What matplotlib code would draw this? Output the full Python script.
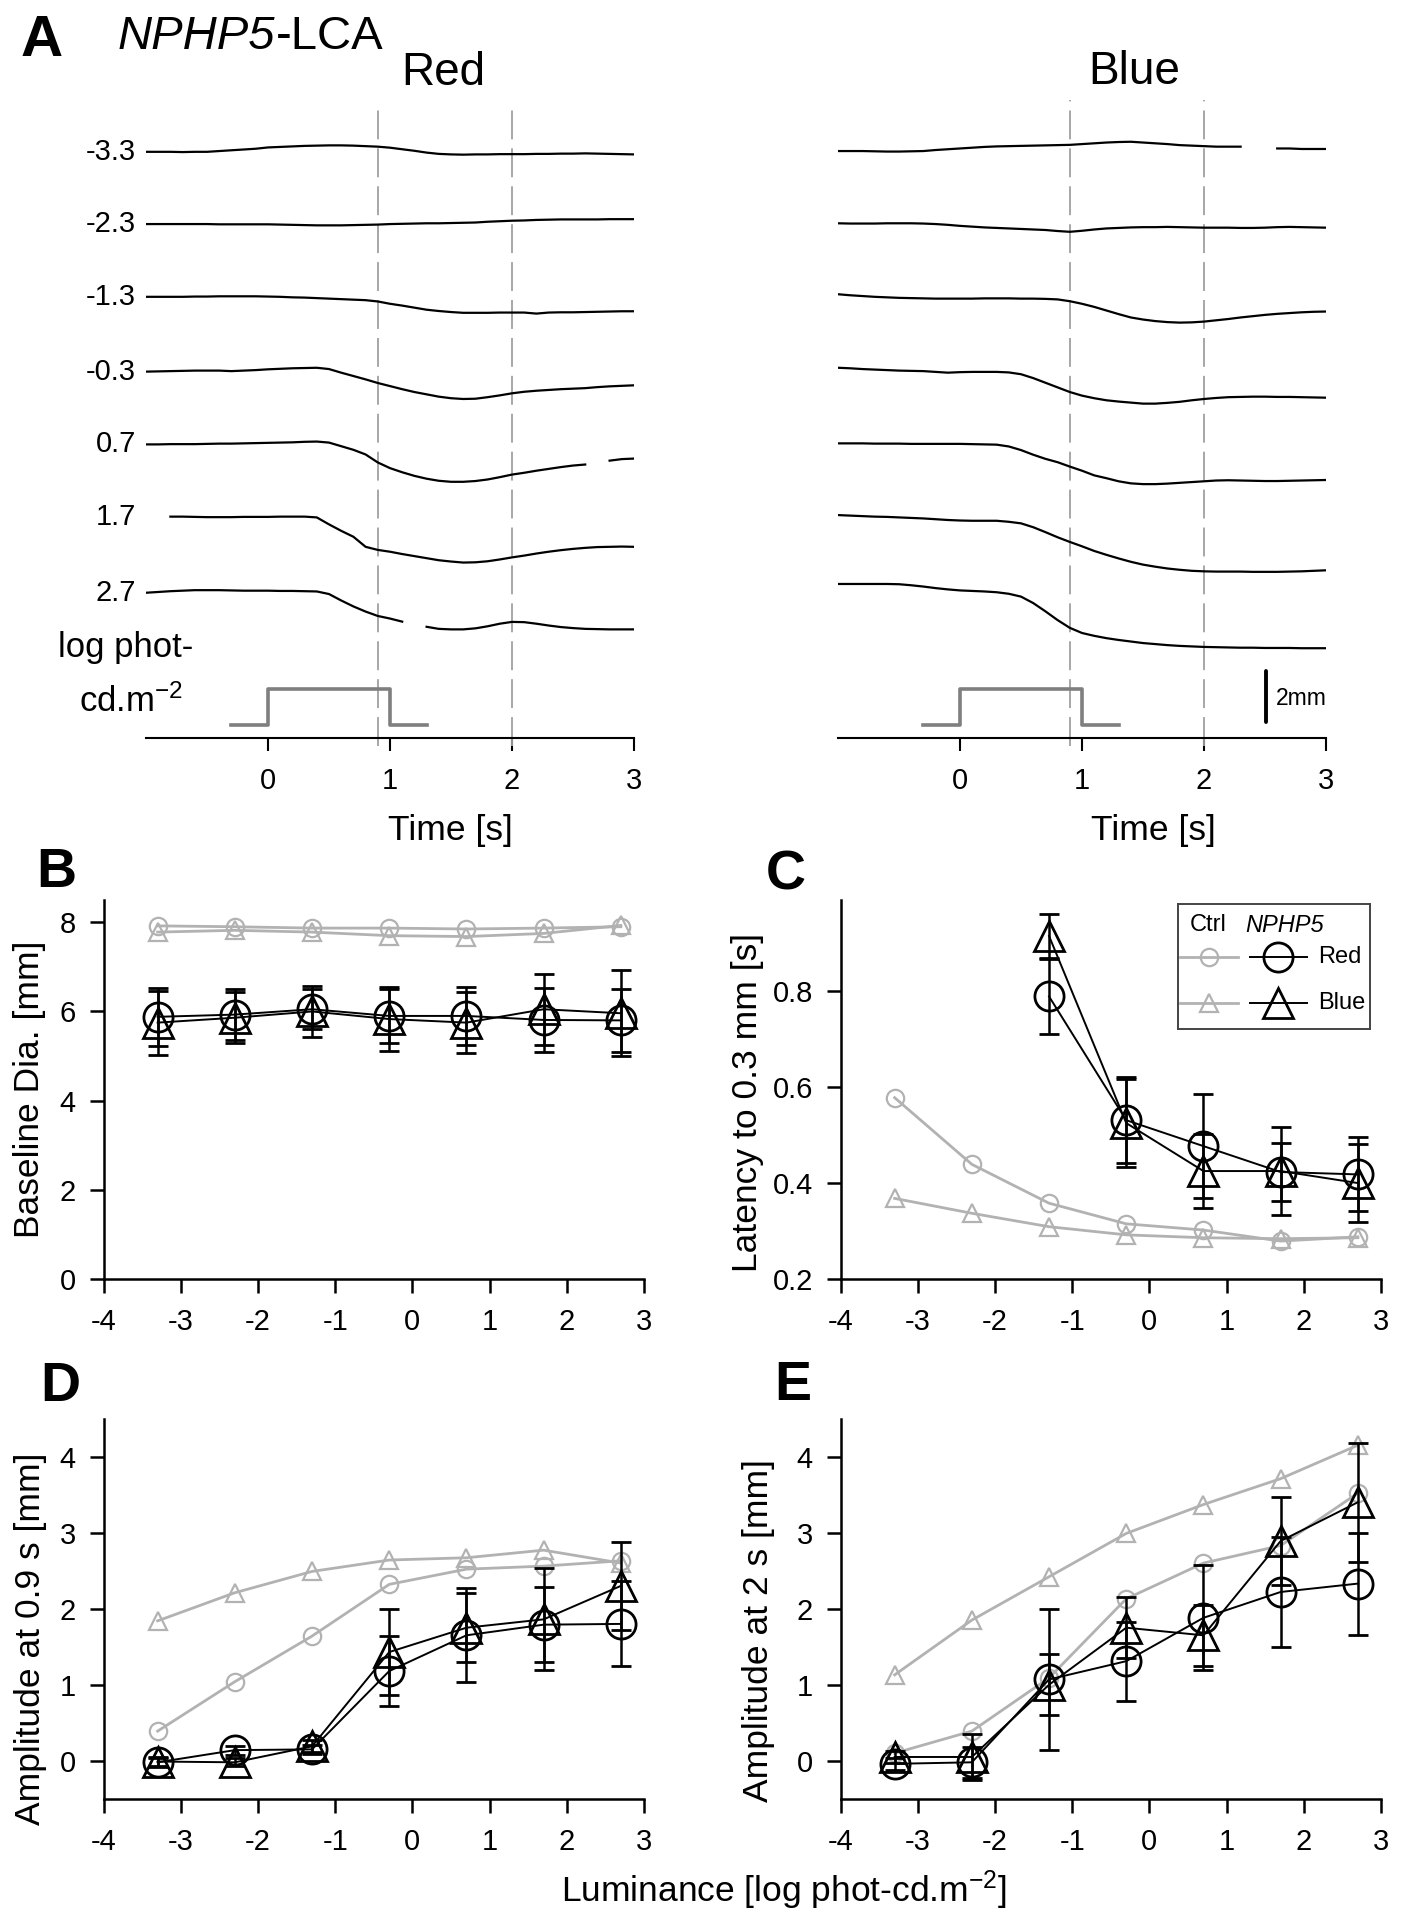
import matplotlib
matplotlib.use('Agg')
import matplotlib.pyplot as plt
import numpy as np

W, H = 1401, 1920
plt.rcParams['font.family'] = ['Liberation Sans', 'DejaVu Sans']
plt.rcParams['mathtext.fontset'] = 'custom'
plt.rcParams['mathtext.rm'] = 'Liberation Sans'
plt.rcParams['mathtext.it'] = 'Liberation Sans:italic'
plt.rcParams['axes.unicode_minus'] = False

# ---------------- panel A: pupil traces (mm change vs time) ----------------
TIME = [-1.0, -0.9, -0.8, -0.7, -0.6, -0.5, -0.4, -0.3, -0.2, -0.1,
        0.0, 0.1, 0.2, 0.3, 0.4, 0.5, 0.6, 0.7, 0.8, 0.9,
        1.0, 1.1, 1.2, 1.3, 1.4, 1.5, 1.6, 1.7, 1.8, 1.9,
        2.0, 2.1, 2.2, 2.3, 2.4, 2.5, 2.6, 2.7, 2.8, 2.9, 3.0]
nan = np.nan
LEVELS = ['-3.3', '-2.3', '-1.3', '-0.3', '0.7', '1.7', '2.7']

RED_M33 = [0, 0, 0, -0.01, 0, 0, 0.03, 0.06, 0.09, 0.12,
           0.17, 0.19, 0.21, 0.23, 0.24, 0.25, 0.25, 0.24, 0.22, 0.20,
           0.16, 0.10, 0.04, -0.03, -0.08, -0.10, -0.11, -0.10, -0.10, -0.09,
           -0.09, -0.09, -0.08, -0.08, -0.07, -0.07, -0.06, -0.07, -0.08, -0.09, -0.10]
RED_M23 = [0, 0, 0, 0, 0, 0, -0.01, -0.01, -0.01, -0.01,
           -0.01, -0.02, -0.03, -0.04, -0.05, -0.05, -0.05, -0.04, -0.03, -0.02,
           0.0, 0.01, 0.02, 0.03, 0.03, 0.04, 0.05, 0.06, 0.09, 0.11,
           0.13, 0.14, 0.16, 0.17, 0.18, 0.18, 0.18, 0.18, 0.19, 0.19, 0.19]
RED_M13 = [0, 0, 0, 0, 0.01, 0.01, 0.02, 0.02, 0.02, 0.02,
           0.01, 0.0, -0.02, -0.03, -0.05, -0.07, -0.09, -0.11, -0.13, -0.18,
           -0.27, -0.34, -0.42, -0.50, -0.55, -0.59, -0.62, -0.62, -0.62, -0.61,
           -0.61, -0.61, -0.65, -0.61, -0.60, -0.60, -0.59, -0.58, -0.57, -0.56, -0.56]
RED_M03 = [0, 0.01, 0.02, 0.03, 0.04, 0.04, 0.04, 0.02, 0.04, 0.06,
           0.09, 0.11, 0.13, 0.14, 0.15, 0.10, -0.04, -0.17, -0.30, -0.44,
           -0.56, -0.68, -0.79, -0.88, -0.97, -1.03, -1.06, -1.05, -0.99, -0.92,
           -0.84, -0.78, -0.74, -0.71, -0.68, -0.66, -0.64, -0.60, -0.57, -0.55, -0.53]
RED_P07 = [0, 0, 0.01, 0.01, 0.01, 0.02, 0.03, 0.03, 0.04, 0.05,
           0.06, 0.07, 0.08, 0.10, 0.11, 0.07, -0.07, -0.21, -0.39, -0.70,
           -0.92, -1.08, -1.22, -1.33, -1.41, -1.45, -1.45, -1.42, -1.36, -1.27,
           -1.17, -1.10, -1.02, -0.95, -0.88, -0.82, -0.78, nan, -0.63, -0.57, -0.55]
RED_P17 = [nan, nan, 0, 0, -0.01, -0.02, -0.02, -0.02, -0.01, -0.01,
           -0.01, 0, 0, 0, -0.03, -0.30, -0.55, -0.78, -1.17, -1.29,
           -1.36, -1.45, -1.53, -1.61, -1.69, -1.74, -1.78, -1.77, -1.73, -1.66,
           -1.58, -1.51, -1.43, -1.36, -1.30, -1.25, -1.21, -1.18, -1.17, -1.16, -1.17]
RED_P27 = [0, 0.03, 0.06, 0.08, 0.10, 0.10, 0.10, 0.09, 0.08, 0.08,
           0.08, 0.07, 0.07, 0.06, 0.05, -0.05, -0.30, -0.53, -0.73, -0.90,
           -1.00, -1.12, nan, -1.32, -1.40, -1.42, -1.42, -1.38, -1.30, -1.20,
           -1.13, -1.14, -1.20, -1.27, -1.33, -1.37, -1.40, -1.41, -1.42, -1.42, -1.42]

BLUE_M33 = [0, 0, 0, -0.01, -0.02, -0.02, -0.01, 0.0, 0.04, 0.07,
            0.10, 0.13, 0.16, 0.18, 0.19, 0.20, 0.21, 0.22, 0.23, 0.24,
            0.27, 0.30, 0.33, 0.35, 0.36, 0.33, 0.30, 0.27, 0.23, 0.21,
            0.19, 0.17, 0.17, 0.17, nan, nan, 0.10, 0.10, 0.08, 0.08, 0.08]
BLUE_M23 = [0, -0.01, -0.01, -0.01, 0, 0, 0, -0.01, -0.03, -0.06,
            -0.10, -0.13, -0.16, -0.18, -0.20, -0.22, -0.24, -0.26, -0.30, -0.33,
            -0.29, -0.24, -0.20, -0.18, -0.16, -0.15, -0.15, -0.14, -0.15, -0.16,
            -0.17, -0.17, -0.17, -0.18, -0.18, -0.17, -0.15, -0.14, -0.15, -0.16, -0.17]
BLUE_M13 = [0, -0.04, -0.07, -0.10, -0.12, -0.14, -0.15, -0.16, -0.17, -0.17,
            -0.17, -0.17, -0.16, -0.16, -0.16, -0.17, -0.17, -0.18, -0.20, -0.27,
            -0.37, -0.49, -0.63, -0.77, -0.90, -0.98, -1.04, -1.08, -1.10, -1.09,
            -1.06, -1.01, -0.96, -0.90, -0.85, -0.80, -0.76, -0.73, -0.70, -0.68, -0.67]
BLUE_M03 = [0, -0.02, -0.05, -0.07, -0.09, -0.11, -0.12, -0.13, -0.16, -0.19,
            -0.17, -0.16, -0.16, -0.16, -0.18, -0.25, -0.40, -0.58, -0.76, -0.94,
            -1.08, -1.18, -1.26, -1.31, -1.35, -1.39, -1.39, -1.36, -1.32, -1.26,
            -1.21, -1.17, -1.14, -1.13, -1.12, -1.12, -1.13, -1.13, -1.14, -1.15, -1.16]
BLUE_P07 = [0, 0, 0, -0.01, -0.01, -0.01, -0.02, -0.02, -0.02, -0.02,
            -0.02, -0.03, -0.04, -0.05, -0.12, -0.26, -0.44, -0.60, -0.73, -0.90,
            -1.06, -1.24, -1.35, -1.47, -1.55, -1.58, -1.58, -1.56, -1.53, -1.50,
            -1.47, -1.44, -1.43, -1.44, -1.45, -1.46, -1.46, -1.45, -1.44, -1.43, -1.42]
BLUE_P17 = [0, -0.02, -0.04, -0.06, -0.07, -0.09, -0.11, -0.13, -0.16, -0.19,
            -0.21, -0.22, -0.22, -0.22, -0.26, -0.32, -0.47, -0.66, -0.86, -1.04,
            -1.21, -1.39, -1.54, -1.68, -1.81, -1.92, -2.00, -2.07, -2.12, -2.16,
            -2.18, -2.19, -2.19, -2.19, -2.20, -2.20, -2.20, -2.19, -2.18, -2.16, -2.14]
BLUE_P27 = [0, 0, 0, 0, 0, -0.01, -0.05, -0.10, -0.16, -0.21,
            -0.25, -0.27, -0.29, -0.32, -0.38, -0.49, -0.74, -1.06, -1.40, -1.70,
            -1.90, -2.01, -2.10, -2.17, -2.23, -2.29, -2.33, -2.37, -2.40, -2.42,
            -2.44, -2.45, -2.46, -2.47, -2.47, -2.48, -2.48, -2.48, -2.49, -2.49, -2.49]

RED_TRACES = [RED_M33, RED_M23, RED_M13, RED_M03, RED_P07, RED_P17, RED_P27]
BLUE_TRACES = [BLUE_M33, BLUE_M23, BLUE_M13, BLUE_M03, BLUE_P07, BLUE_P17, BLUE_P27]

STIM_T = [-0.3, 0.0, 0.0, 1.0, 1.0, 1.3]
STIM_ON = [0, 0, 1, 1, 0, 0]
MARK_T = [0.9, 2.0]

# ---------------- panels B-E: summary vs luminance ----------------
LUM = [-3.3, -2.3, -1.3, -0.3, 0.7, 1.7, 2.7]

BASE_CTRL_RED = [7.92, 7.90, 7.87, 7.87, 7.85, 7.87, 7.90]
BASE_CTRL_BLUE = [7.78, 7.82, 7.78, 7.70, 7.68, 7.75, 7.93]
BASE_RED = [5.88, 5.93, 6.05, 5.90, 5.90, 5.81, 5.80]
BASE_RED_ERR = [0.65, 0.57, 0.45, 0.60, 0.65, 0.71, 0.70]
BASE_BLUE = [5.75, 5.86, 6.00, 5.83, 5.75, 6.05, 5.96]
BASE_BLUE_ERR = [0.72, 0.57, 0.58, 0.72, 0.68, 0.80, 0.96]

LAT_CTRL_RED = [0.578, 0.439, 0.358, 0.315, 0.302, 0.279, 0.288]
LAT_CTRL_BLUE = [0.368, 0.337, 0.309, 0.292, 0.286, 0.284, 0.286]
LAT_RED = [nan, nan, 0.789, 0.531, 0.477, 0.423, 0.418]
LAT_RED_ERR = [nan, nan, 0.078, 0.090, 0.108, 0.060, 0.077]
LAT_BLUE = [nan, nan, 0.915, 0.525, 0.425, 0.425, 0.400]
LAT_BLUE_ERR = [nan, nan, 0.045, 0.092, 0.078, 0.092, 0.081]

A09_CTRL_RED = [0.39, 1.04, 1.64, 2.32, 2.52, 2.56, 2.63]
A09_CTRL_BLUE = [1.84, 2.21, 2.49, 2.64, 2.67, 2.77, 2.60]
A09_RED = [-0.02, 0.14, 0.15, 1.18, 1.65, 1.79, 1.80]
A09_RED_ERR = [0.06, 0.06, 0.06, 0.46, 0.62, 0.49, 0.56]
A09_BLUE = [-0.01, -0.02, 0.19, 1.43, 1.75, 1.86, 2.30]
A09_BLUE_ERR = [0.06, 0.05, 0.08, 0.56, 0.45, 0.67, 0.58]

A2_CTRL_RED = [0.10, 0.39, 1.09, 2.13, 2.60, 2.83, 3.52]
A2_CTRL_BLUE = [1.13, 1.85, 2.42, 2.99, 3.37, 3.71, 4.15]
A2_RED = [-0.04, -0.02, 1.07, 1.31, 1.88, 2.22, 2.33]
A2_RED_ERR = [0.08, 0.20, 0.93, 0.52, 0.69, 0.72, 0.67]
A2_BLUE = [0.05, 0.05, 1.00, 1.75, 1.65, 2.89, 3.40]
A2_BLUE_ERR = [0.08, 0.30, 0.40, 0.40, 0.40, 0.58, 0.78]

GRAY = '#b2b2b2'
STIM_GRAY = '#7f7f7f'
DASH_GRAY = '#a0a0a0'


def fx(x):
    return x / W


def fy(y):
    return 1 - y / H


fig = plt.figure(figsize=(W / 100, H / 100), dpi=100)

# ---- panel A ----
ax_red = fig.add_axes([fx(146), fy(763.8), 488 / W, 670.8 / H])
ax_blue = fig.add_axes([fx(838), fy(763.8), 488 / W, 670.8 / H])
red_offsets = [22.72, 19.92, 17.10, 14.20, 11.38, 8.58, 5.63]
blue_offsets = [22.75, 19.95, 17.20, 14.35, 11.42, 8.64, 5.97]
for ax, traces, offs, dash_top in [(ax_red, RED_TRACES, red_offsets, 24.46),
                                   (ax_blue, BLUE_TRACES, blue_offsets, 24.73)]:
    for tr, off in zip(traces, offs):
        ax.plot(TIME, np.array(tr) + off, color='k', lw=1.6, zorder=3)
    for t in MARK_T:
        ax.plot([t, t], [-0.3, dash_top], color=DASH_GRAY, lw=1.3,
                linestyle=(0, (16, 5)), zorder=2)
    ax.plot(STIM_T, 0.5 + 1.4 * np.array(STIM_ON), color=STIM_GRAY, lw=2.6, zorder=2)
    ax.set_xlim(-1.0, 3.0)
    ax.set_ylim(-1.0, 25.0)
    for s in ['left', 'right', 'top']:
        ax.spines[s].set_visible(False)
    ax.spines['bottom'].set_position(('data', 0))
    ax.spines['bottom'].set_linewidth(1.5)
    ax.set_xticks([0, 1, 2, 3])
    ax.set_yticks([])
    ax.tick_params(axis='x', direction='out', length=9, width=1.5, labelsize=21, pad=12)
    ax.patch.set_visible(False)

for lab, off in zip(LEVELS, red_offsets):
    ax_red.text(-1.08, off, lab, ha='right', va='center', fontsize=21)

ax_blue.plot([2.51, 2.51], [0.61, 2.61], color='k', lw=2.8, solid_capstyle='round')
ax_blue.text(2.59, 1.55, '2mm', ha='left', va='center', fontsize=16.5)

fig.text(fx(58), fy(648), 'log phot-', ha='left', va='center', fontsize=25)
fig.text(fx(79), fy(702), r'cd.m$^{-2}$', ha='left', va='center', fontsize=25)
fig.text(fx(450), fy(830), 'Time [s]', ha='center', va='center', fontsize=25.5)
fig.text(fx(1153), fy(830), 'Time [s]', ha='center', va='center', fontsize=25.5)
fig.text(fx(443), fy(73), 'Red', ha='center', va='center', fontsize=33)
fig.text(fx(1134), fy(72), 'Blue', ha='center', va='center', fontsize=33)

fig.text(fx(42), fy(41), 'A', ha='center', va='center', fontsize=42, fontweight='bold')
t1 = fig.text(fx(118), fy(37), 'NPHP5', ha='left', va='center', fontsize=34, style='italic')
renderer = fig.canvas.get_renderer()
bb = t1.get_window_extent(renderer)
fig.text(bb.x1 / W, fy(37), '-LCA', ha='left', va='center', fontsize=34)


# ---- panels B-E ----
def summary_axes(rect, ylim, yticks, ylabels=None):
    ax = fig.add_axes(rect)
    ax.set_xlim(-4, 3)
    ax.set_ylim(*ylim)
    ax.set_xticks(range(-4, 4))
    ax.set_yticks(yticks)
    if ylabels is not None:
        ax.set_yticklabels(ylabels)
    for s in ['right', 'top']:
        ax.spines[s].set_visible(False)
    for s in ['left', 'bottom']:
        ax.spines[s].set_linewidth(1.8)
    ax.tick_params(direction='out', length=10, width=1.8, labelsize=21)
    ax.tick_params(axis='x', pad=11)
    ax.tick_params(axis='y', pad=10)
    return ax


def draw_series(ax, ctrl_red, ctrl_blue, red, red_err, blue, blue_err):
    ax.plot(LUM, ctrl_red, color=GRAY, lw=2.0, marker='o', ms=12.5, mfc='none',
            mec=GRAY, mew=1.6, zorder=2)
    ax.plot(LUM, ctrl_blue, color=GRAY, lw=2.0, marker='^', ms=12.5, mfc='none',
            mec=GRAY, mew=1.6, zorder=2)
    ax.errorbar(LUM, red, yerr=red_err, color='k', lw=1.4, marker='o', ms=21,
                mfc='none', mec='k', mew=2.0, capsize=7.5, capthick=1.8,
                elinewidth=1.8, zorder=4)
    ax.errorbar(LUM, blue, yerr=blue_err, color='k', lw=1.4, marker='^', ms=21,
                mfc='none', mec='k', mew=2.0, capsize=7.5, capthick=1.8,
                elinewidth=1.8, zorder=4)


ax_b = summary_axes([fx(103.6), fy(1279), 540.4 / W, 379 / H], (0, 8.5), [0, 2, 4, 6, 8])
draw_series(ax_b, BASE_CTRL_RED, BASE_CTRL_BLUE, BASE_RED, BASE_RED_ERR, BASE_BLUE, BASE_BLUE_ERR)

ax_c = summary_axes([fx(840.6), fy(1279), 540.4 / W, 379 / H], (0.2, 0.99),
                    [0.2, 0.4, 0.6, 0.8], ['0.2', '0.4', '0.6', '0.8'])
draw_series(ax_c, LAT_CTRL_RED, LAT_CTRL_BLUE, LAT_RED, LAT_RED_ERR, LAT_BLUE, LAT_BLUE_ERR)

ax_d = summary_axes([fx(103.6), fy(1798.8), 540.4 / W, 380.2 / H], (-0.5, 4.5), [0, 1, 2, 3, 4])
draw_series(ax_d, A09_CTRL_RED, A09_CTRL_BLUE, A09_RED, A09_RED_ERR, A09_BLUE, A09_BLUE_ERR)

ax_e = summary_axes([fx(840.6), fy(1798.8), 540.4 / W, 380.2 / H], (-0.5, 4.5), [0, 1, 2, 3, 4])
draw_series(ax_e, A2_CTRL_RED, A2_CTRL_BLUE, A2_RED, A2_RED_ERR, A2_BLUE, A2_BLUE_ERR)

fig.text(fx(30), fy(1089), 'Baseline Dia. [mm]', rotation=90, ha='center', va='center', fontsize=25.5)
fig.text(fx(747), fy(1103), 'Latency to 0.3 mm [s]', rotation=90, ha='center', va='center', fontsize=25.5)
fig.text(fx(31), fy(1639), 'Amplitude at 0.9 s [mm]', rotation=90, ha='center', va='center', fontsize=25.5)
fig.text(fx(758), fy(1631), 'Amplitude at 2 s [mm]', rotation=90, ha='center', va='center', fontsize=25.5)
fig.text(fx(784), fy(1890), r'Luminance [log phot-cd.m$^{-2}$]', ha='center', va='center', fontsize=25.5)

for lab, x, y in [('B', 56, 873), ('C', 786, 876), ('D', 60, 1387), ('E', 793, 1386)]:
    fig.text(fx(x), fy(y), lab, ha='center', va='center', fontsize=40, fontweight='bold')

# ---- legend of panel C ----
lg = fig.add_axes([fx(1178), fy(1029), 192 / W, 125 / H])
lg.set_xlim(0, 1)
lg.set_ylim(0, 1)
lg.set_xticks([])
lg.set_yticks([])
for s in lg.spines.values():
    s.set_color('#444444')
    s.set_linewidth(1.4)
lg.text(0.06, 0.83, 'Ctrl', ha='left', va='center', fontsize=17)
lg.text(0.35, 0.83, 'NPHP5', ha='left', va='center', fontsize=17, style='italic')
for yy, mk, lab in [(0.576, 'o', 'Red'), (0.21, '^', 'Blue')]:
    lg.plot([0.01, 0.31], [yy, yy], color=GRAY, lw=2.0)
    lg.plot([0.16], [yy], marker=mk, ms=12.5, mfc='none', mec=GRAY, mew=1.6, color=GRAY)
    lg.plot([0.375, 0.67], [yy, yy], color='k', lw=1.4)
    lg.plot([0.52], [yy], marker=mk, ms=21, mfc='none', mec='k', mew=2.0)
    lg.text(0.73, yy, lab, ha='left', va='center', fontsize=17)

fig.savefig('out.png', dpi=100)
